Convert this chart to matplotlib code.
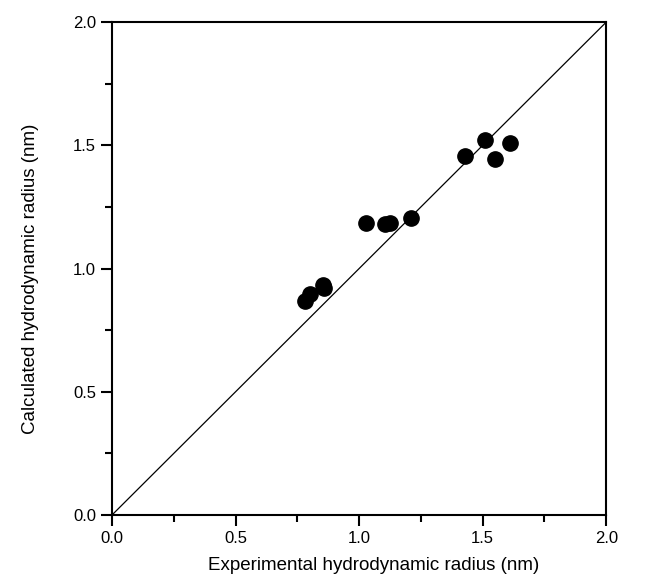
import numpy as np
import matplotlib
matplotlib.use('Agg')
import matplotlib.pyplot as plt
from matplotlib.ticker import MultipleLocator, FormatStrFormatter

plt.rcParams['font.family'] = ['Liberation Sans', 'DejaVu Sans']

# experimental vs calculated hydrodynamic radius (nm)
r_exp = [0.78, 0.80, 0.855, 0.86, 1.03, 1.105, 1.125, 1.21, 1.43, 1.51, 1.55, 1.61]
r_calc = [0.87, 0.897, 0.935, 0.92, 1.186, 1.18, 1.183, 1.204, 1.458, 1.52, 1.443, 1.508]

fig = plt.figure(figsize=(6.47, 5.82), dpi=100)
ax = fig.add_axes([0.173, 0.115, 0.764, 0.847])

ax.plot([0, 2], [0, 2], 'k-', lw=0.9)
ax.plot(r_exp, r_calc, 'ko', ms=11)

ax.set_xlim(0, 2)
ax.set_ylim(0, 2)
ax.xaxis.set_major_locator(MultipleLocator(0.5))
ax.xaxis.set_minor_locator(MultipleLocator(0.25))
ax.yaxis.set_major_locator(MultipleLocator(0.5))
ax.yaxis.set_minor_locator(MultipleLocator(0.25))
ax.xaxis.set_major_formatter(FormatStrFormatter('%.1f'))
ax.yaxis.set_major_formatter(FormatStrFormatter('%.1f'))
ax.tick_params(which='both', direction='out', width=1.5, labelsize=12, top=False, right=False)
ax.tick_params(which='major', length=8)
ax.tick_params(which='minor', length=5)
for s in ax.spines.values():
    s.set_linewidth(1.5)

ax.set_xlabel('Experimental hydrodynamic radius (nm)', fontsize=13.5)
ax.set_ylabel('Calculated hydrodynamic radius (nm)', fontsize=13.5)
ax.xaxis.set_label_coords(0.53, -0.085)
ax.yaxis.set_label_coords(-0.148, 0.48)

fig.savefig('out.png', dpi=100)
